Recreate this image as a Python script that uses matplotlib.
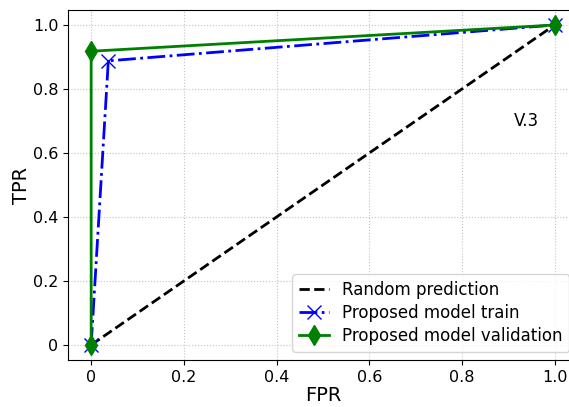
import matplotlib
matplotlib.use('Agg')
import matplotlib.pyplot as plt
from matplotlib.ticker import FuncFormatter

# Datos de la curva ROC
fpr_random = [0, 1]
tpr_random = [0, 1]
fpr_train = [0, 0.037, 1]
tpr_train = [0, 0.888, 1]
fpr_val = [0, 0, 1]
tpr_val = [0, 0.918, 1]
ticks = [0, 0.2, 0.4, 0.6, 0.8, 1.0]

fig = plt.figure(figsize=(5.69, 4.07), dpi=100)
ax = fig.add_axes([0.1195, 0.1155, 0.896, 0.86])

ax.plot(fpr_random, tpr_random, 'k--', lw=2, label='Random prediction')
ax.plot(fpr_train, tpr_train, 'b-.', lw=2, marker='x', ms=10, label='Proposed model train')
ax.plot(fpr_val, tpr_val, 'g-', lw=2, marker='d', ms=10, label='Proposed model validation')

ax.text(0.94, 0.70, 'V.3', fontsize=12, ha='center', va='center')

fmt = FuncFormatter(lambda v, p: '0' if v == 0 else '%.1f' % v)
ax.set_xticks(ticks)
ax.set_yticks(ticks)
ax.xaxis.set_major_formatter(fmt)
ax.yaxis.set_major_formatter(fmt)
ax.tick_params(labelsize=11.5)
ax.set_xlim(-0.05, 1.05)
ax.set_ylim(-0.047, 1.047)
ax.grid(True, linestyle=':', color='#c4c4c4')
ax.set_xlabel('FPR', fontsize=14, labelpad=1)
ax.set_ylabel('TPR', fontsize=14, labelpad=1)
ax.legend(loc='lower right', fontsize=12, labelspacing=0.3, handlelength=1.8)

fig.savefig('out.png', dpi=100)
